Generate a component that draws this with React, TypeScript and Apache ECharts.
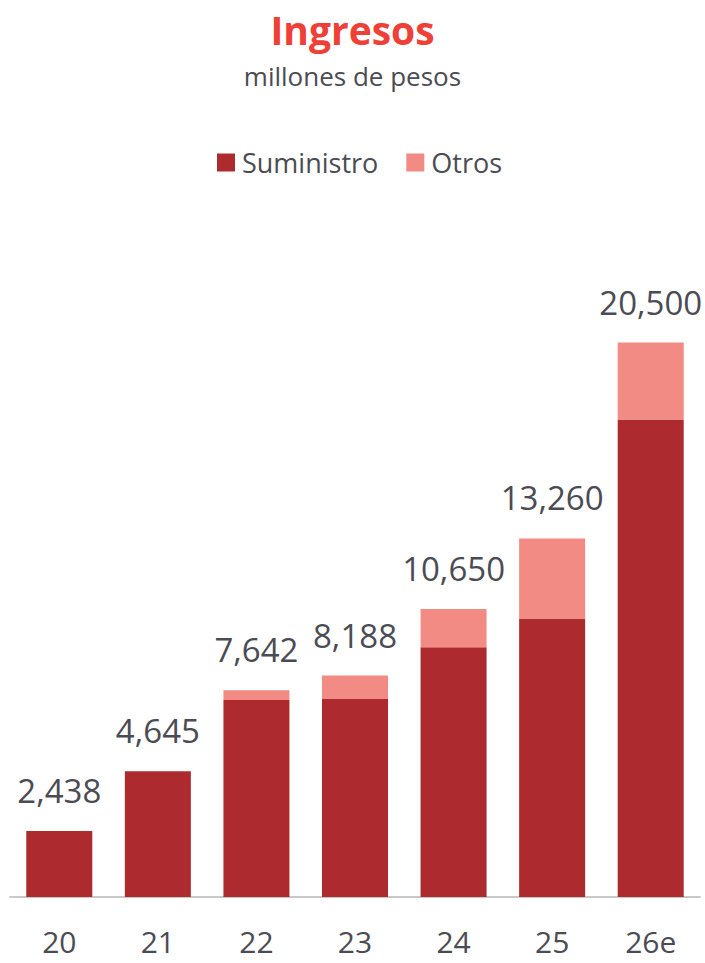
import React, { useEffect, useRef } from "react";
import * as echarts from "echarts";

const categories = ["20", "21", "22", "23", "24", "25", "26e"];
const suministro = [2438, 4645, 7280, 7320, 9235, 10300, 17660];
const otros = [0, 0, 362, 868, 1415, 2960, 2840];
const totals = [2438, 4645, 7642, 8188, 10650, 13260, 20500];

const FONT = "Open Sans";
const GREY = "#4B4B53";

export default function App() {
  const ref = useRef<HTMLDivElement>(null);
  useEffect(() => {
    if (!ref.current) return;
    const chart = echarts.init(ref.current, null, { renderer: "svg" });
    chart.setOption({
      animation: false,
      backgroundColor: "#ffffff",
      title: {
        text: "Ingresos",
        subtext: "millones de pesos",
        left: "center",
        top: 5,
        itemGap: 14,
        textStyle: { fontFamily: FONT, fontSize: 39, fontWeight: "bold", color: "#EE4036" },
        subtextStyle: { fontFamily: FONT, fontSize: 26, color: GREY },
      },
      legend: {
        left: 212,
        top: 144,
        itemWidth: 18,
        itemHeight: 18,
        itemGap: 28,
        icon: "rect",
        textStyle: { fontFamily: FONT, fontSize: 27, color: GREY, padding: [0, 0, 0, 2] },
        data: ["Suministro", "Otros"],
      },
      grid: { left: 10, right: 5, top: 302, bottom: 66, containLabel: false },
      xAxis: {
        type: "category",
        data: categories,
        axisLine: { lineStyle: { color: "#C8C8C8", width: 2 } },
        axisTick: { show: false },
        axisLabel: { fontFamily: FONT, fontSize: 30, lineHeight: 30, color: GREY, margin: 29 },
      },
      yAxis: {
        type: "value",
        min: 0,
        max: 22000,
        show: false,
        splitLine: { show: false },
      },
      series: [
        {
          name: "Suministro",
          type: "bar",
          stack: "total",
          barWidth: 66,
          itemStyle: { color: "#AD2A2E" },
          data: suministro,
        },
        {
          name: "Otros",
          type: "bar",
          stack: "total",
          barWidth: 66,
          itemStyle: { color: "#F28B84" },
          data: otros,
          label: {
            show: true,
            position: "top",
            distance: 24,
            fontFamily: FONT,
            fontSize: 33,
            color: GREY,
            formatter: (p: any) => totals[p.dataIndex].toLocaleString("en-US"),
          },
        },
      ],
    });
    return () => chart.dispose();
  }, []);
  return (
    <div
      ref={ref}
      style={{ position: "fixed", left: 0, top: 0, width: 705, height: 963 }}
    />
  );
}
